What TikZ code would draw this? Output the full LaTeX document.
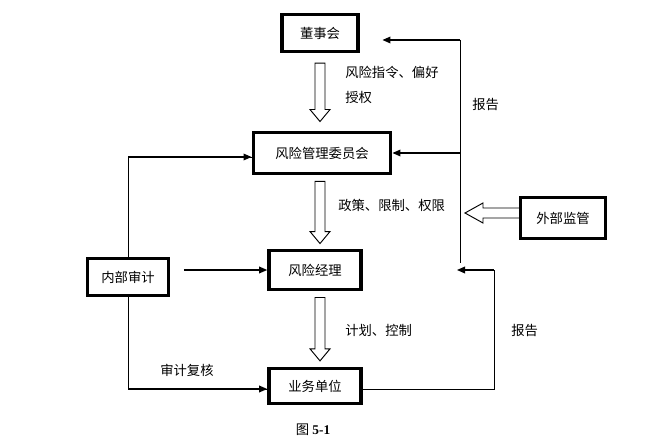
\documentclass[tikz,border=0pt]{standalone}
\usepackage{fontspec}
\setmainfont{Liberation Serif}
\newfontfamily\cjk{Noto Sans CJK SC}
\usetikzlibrary{arrows.meta,calc}

\tikzset{box/.style={draw,line width=2.7pt,inner sep=0pt,font=\cjk\fontsize{10}{12}\selectfont},
  lab/.style={inner sep=0pt,anchor=west,font=\cjk\fontsize{10}{12}\selectfont},
  arr/.style={-{Triangle[length=6pt,width=5pt]},line width=0.9pt},
  thinline/.style={line width=0.6pt}}

% hollow arrows: start point, tip
\newcommand{\hollowdown}[2]{\draw[line width=0.7pt] ($#1+(-5,0)$) -- ($#2+(-5,-12)$) -- ($#2+(-10,-12)$) -- #2
  -- ($#2+(10,-12)$) -- ($#2+(5,-12)$) -- ($#1+(5,0)$) -- cycle;}
\newcommand{\hollowleft}[2]{\draw[line width=0.7pt] ($#1+(0,-5)$) -- ($#2+(18,-5)$) -- ($#2+(18,-10)$) -- #2
  -- ($#2+(18,10)$) -- ($#2+(18,5)$) -- ($#1+(0,5)$);}

\begin{document}
\begin{tikzpicture}[x=0.75pt,y=-0.75pt]
\useasboundingbox (0,0) rectangle (659,445);

\node[box,minimum width=57pt,minimum height=27.5pt] (dongshi) at (320,33) {董事会};
\node[box,minimum width=103pt,minimum height=31pt] (fengguan) at (322,153) {风险管理委员会};
\node[box,minimum width=69pt,minimum height=29.5pt] (jingli) at (315,270) {风险经理};
\node[box,minimum width=69pt,minimum height=26pt] (yewu) at (315,386) {业务单位};
\node[box,minimum width=61pt,minimum height=28pt] (neibu) at (128,277) {内部审计};
\node[box,minimum width=63.5pt,minimum height=30.5pt] (waibu) at (563,218) {外部监管};

\coordinate (axis) at (320,0);
\hollowdown{($(axis |- dongshi.south)+(0,10)$)}{($(axis |- fengguan.north)+(0,-9)$)}
\hollowdown{($(axis |- fengguan.south)+(0,6)$)}{($(axis |- jingli.north)+(0,-5)$)}
\hollowdown{($(axis |- jingli.south)+(0,6)$)}{($(axis |- yewu.north)+(0,-6)$)}
\hollowleft{($(waibu.west)+(0,-5)$)}{(465,213)}

\node[lab,align=left,font=\cjk\fontsize{10}{18.5}\selectfont] (zhiling) at (345,85) {风险指令、偏好\\授权};
\node[lab] (zhengce) at (338,205) {政策、限制、权限};
\node[lab] (jihua) at (345,330) {计划、控制};
\node[lab] (fuhe) at (160,370) {审计复核};
\node[lab] (baogao1) at (472,104) {报告};
\node[lab] (baogao2) at (511,330) {报告};

\coordinate (rtop) at (460,40);
\coordinate (rbot) at (460,263);
\coordinate (rmid) at (460,153);
\coordinate (back) at (494,389);
\draw[thinline] (rtop) -- (rbot);
\draw[arr,shorten >=17pt] (rtop) -- (dongshi.east |- rtop);
\draw[arr] (rmid) -- (fengguan.east);
\draw[thinline] (yewu.east |- back) -- (back) -- (back |- 0,270);
\draw[arr] (back |- 0,270) -- (457,270);

\draw[thinline] (neibu.north) |- ($(fengguan.west)+(0,4)$);
\draw[arr] (neibu.north |- fengguan.west) ++(0,4) -- ($(fengguan.west)+(0,4)$);
\draw[thinline] (neibu.south) |- (yewu.west |- back);
\draw[arr] (neibu.south |- back) -- (yewu.west |- back);
\draw[arr,shorten <=10pt] (neibu.east |- jingli) -- (jingli.west);

\node (tu) at (313,430) {{\cjk\fontsize{10}{12}\selectfont 图} \textbf{5-1}};
\end{tikzpicture}
\end{document}
